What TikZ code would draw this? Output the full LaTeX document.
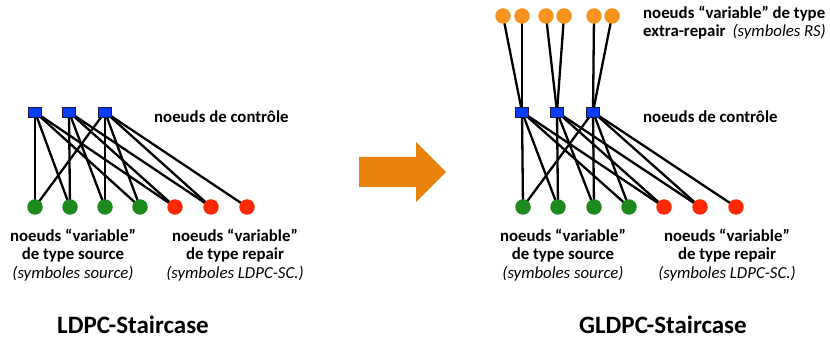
\documentclass[tikz,border=0pt]{standalone}
\usepackage{fontspec}
\setmainfont{Carlito}
\usetikzlibrary{backgrounds}
\definecolor{chkblue}{HTML}{0A3CFF}
\definecolor{chkborder}{HTML}{1A1A40}
\definecolor{srcgreen}{HTML}{1E8A1E}
\definecolor{repred}{HTML}{FF2A05}
\definecolor{xorange}{HTML}{F7931E}
\definecolor{arroworange}{HTML}{E9830C}
\tikzset{
  chk/.style={draw=chkborder, line width=0.8pt, fill=chkblue, minimum width=13pt, minimum height=10pt, inner sep=0pt},
  src/.style={circle, fill=srcgreen, minimum size=15.5pt, inner sep=0pt},
  rep/.style={circle, fill=repred, minimum size=15.5pt, inner sep=0pt},
  xrep/.style={circle, fill=xorange, minimum size=15.5pt, inner sep=0pt},
  edge/.style={black, line width=2.3pt},
  lbl/.style={font=\fontsize{16.8}{18.3}\selectfont\bfseries, align=center, inner sep=0pt},
  lbll/.style={font=\fontsize{16.8}{18.3}\selectfont\bfseries, align=left, inner sep=0pt, anchor=west},
  ttl/.style={font=\fontsize{25}{28}\selectfont\bfseries, inner sep=0pt, anchor=base},
}
\begin{document}
\begin{tikzpicture}[x=1pt,y=-1pt]
\useasboundingbox (0,0) rectangle (830,339);
% ---------- left graph ----------
\node[chk] (lc1) at (35,112) {};
\node[chk] (lc2) at (69,112) {};
\node[chk] (lc3) at (105,112) {};
\node[src] (lv1) at (35,207) {};
\node[src] (lv2) at (70,207) {};
\node[src] (lv3) at (105,207) {};
\node[src] (lv4) at (140,207) {};
\node[rep] (lv5) at (175,207) {};
\node[rep] (lv6) at (211,207) {};
\node[rep] (lv7) at (247,207) {};
\begin{scope}[on background layer]
\foreach \a/\b in {lc1/lv1,lc1/lv2,lc1/lv4,lc1/lv5,
                   lc2/lv2,lc2/lv3,lc2/lv5,lc2/lv6,
                   lc3/lv1,lc3/lv3,lc3/lv4,lc3/lv6,lc3/lv7}
  \draw[edge] (\a.center) -- (\b.center);
\end{scope}
\node[lbll] (lctl) at (154,117) {noeuds de contrôle};
\node[lbl] (lsrc) at (73,255) {noeuds “variable”\\de type source\\\normalfont\itshape(symboles source)};
\node[lbl] (lrep) at (235,255) {noeuds “variable”\\de type repair\\\normalfont\itshape(symboles LDPC-SC.)};
\node[ttl] (ltitle) at (133,333) {LDPC-Staircase};
% ---------- arrow ----------
\fill[arroworange] (359,157) -- (416,157) -- (416,142) -- (446,172) -- (416,202) -- (416,187) -- (359,187) -- cycle;
% ---------- right graph ----------
\node[chk] (rc1) at (522,112) {};
\node[chk] (rc2) at (557,112) {};
\node[chk] (rc3) at (593,112) {};
\node[src] (rv1) at (523,207) {};
\node[src] (rv2) at (558,207) {};
\node[src] (rv3) at (594,207) {};
\node[src] (rv4) at (629,207) {};
\node[rep] (rv5) at (664,207) {};
\node[rep] (rv6) at (700,207) {};
\node[rep] (rv7) at (736,207) {};
\node[xrep] (rx1) at (503,16) {};
\node[xrep] (rx2) at (522,16) {};
\node[xrep] (rx3) at (546,16) {};
\node[xrep] (rx4) at (564,16) {};
\node[xrep] (rx5) at (594,16) {};
\node[xrep] (rx6) at (612,16) {};
\begin{scope}[on background layer]
\foreach \a/\b in {rc1/rv1,rc1/rv2,rc1/rv4,rc1/rv5,
                   rc2/rv2,rc2/rv3,rc2/rv5,rc2/rv6,
                   rc3/rv1,rc3/rv3,rc3/rv4,rc3/rv6,rc3/rv7,
                   rc1/rx1,rc1/rx2,rc2/rx3,rc2/rx4,rc3/rx5,rc3/rx6}
  \draw[edge] (\a.center) -- (\b.center);
\end{scope}
\node[lbll, anchor=north west] (rxtxt) at (643,6) {noeuds “variable” de type\\extra-repair\hspace{7pt}{\normalfont\itshape(symboles RS)}};
\node[lbll] (rctl) at (643,117) {noeuds de contrôle};
\node[lbl] (rsrc) at (563,255) {noeuds “variable”\\de type source\\\normalfont\itshape(symboles source)};
\node[lbl] (rrep) at (727,255) {noeuds “variable”\\de type repair\\\normalfont\itshape(symboles LDPC-SC.)};
\node[ttl] (rtitle) at (663,333) {GLDPC-Staircase};
\end{tikzpicture}
\end{document}
